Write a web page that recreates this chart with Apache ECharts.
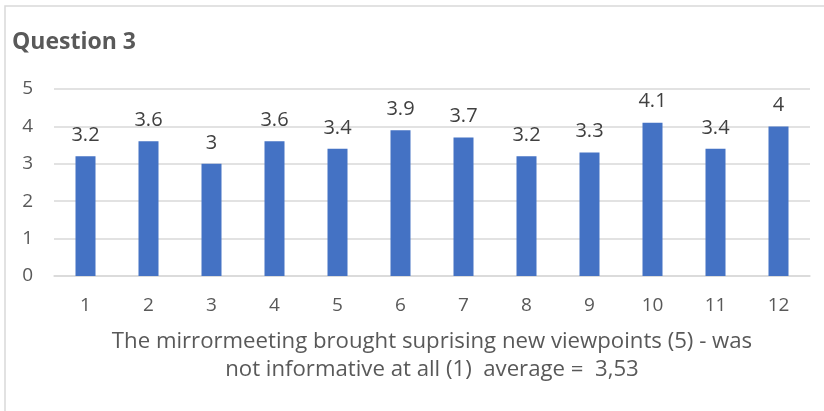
<!DOCTYPE html>
<html>
<head>
<meta charset="utf-8">
<script src="https://cdn.jsdelivr.net/npm/echarts@6/dist/echarts.min.js"></script>
<style>
  html, body { margin: 0; padding: 0; background: #fff; }
  #chart-container { width: 824px; height: 411px; }
</style>
</head>
<body>
<div id="chart-container"></div>
<script>
const categories = ['1', '2', '3', '4', '5', '6', '7', '8', '9', '10', '11', '12'];
const scores = [3.2, 3.6, 3, 3.6, 3.4, 3.9, 3.7, 3.2, 3.3, 4.1, 3.4, 4];
const yTicks = [0, 1, 2, 3, 4, 5];
const axisTitle = 'The mirrormeeting brought suprising new viewpoints (5) - was\nnot informative at all (1)  average =  3,53';

var dom = document.getElementById('chart-container');
var myChart = echarts.init(dom, null, { renderer: 'canvas' });
const font = '"Open Sans", Lato, sans-serif';

var option = {
  animation: false,
  textStyle: { fontFamily: font },
  title: {
    text: 'Question 3',
    left: 7,
    top: 26,
    textStyle: { fontFamily: font, fontSize: 23, fontWeight: 'bold', color: '#595959' }
  },
  graphic: [{
    type: 'rect',
    shape: { x: 5, y: 6, width: 840, height: 430 },
    style: { fill: 'none', stroke: '#d9d9d9', lineWidth: 1.5 },
    silent: true
  }],
  grid: { left: 54, right: 14, top: 89, bottom: 135 },
  xAxis: {
    type: 'category',
    data: categories,
    axisTick: { show: false },
    axisLine: { lineStyle: { color: '#d9d9d9', width: 1.5 } },
    axisLabel: { color: '#595959', fontSize: 19, margin: 20, fontFamily: font },
    name: axisTitle,
    nameLocation: 'middle',
    nameGap: 52,
    nameTextStyle: { color: '#595959', fontSize: 22.2, lineHeight: 28, fontFamily: font }
  },
  yAxis: {
    type: 'value',
    min: yTicks[0],
    max: yTicks[yTicks.length - 1],
    interval: 1,
    axisLabel: { color: '#595959', fontSize: 19, margin: 21, fontFamily: font },
    splitLine: { lineStyle: { color: '#d9d9d9', width: 1.5 } }
  },
  series: [{
    type: 'bar',
    data: scores,
    barWidth: 20,
    itemStyle: { color: '#4472C4' },
    label: {
      show: true,
      position: 'top',
      distance: 11,
      color: '#404040',
      fontSize: 20,
      fontFamily: font
    }
  }]
};

myChart.setOption(option);
window.addEventListener('resize', myChart.resize);
</script>
</body>
</html>
